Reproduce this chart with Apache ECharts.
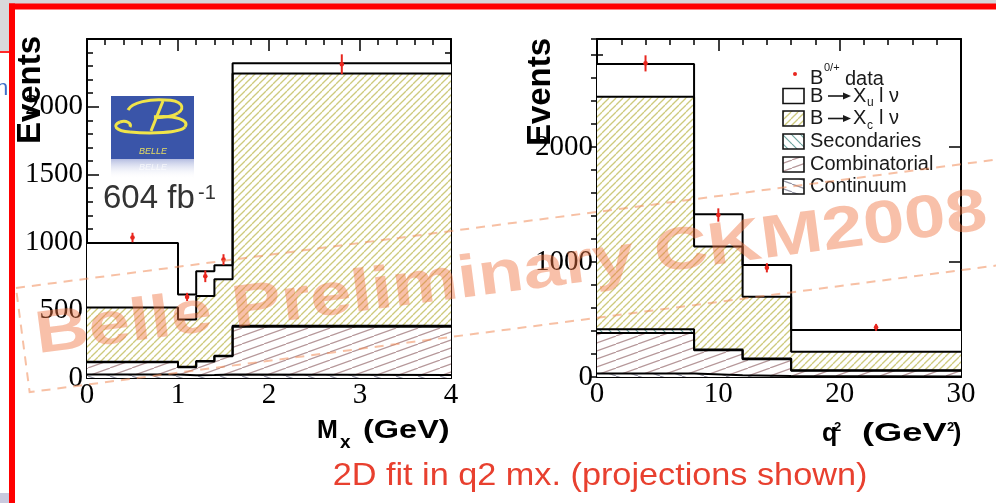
<!DOCTYPE html>
<html>
<head>
<meta charset="utf-8">
<script src="https://cdn.jsdelivr.net/npm/echarts@6/dist/echarts.min.js"></script>
<style>
html,body{margin:0;padding:0;background:#fff;}
#chart{width:996px;height:503px;}
</style>
</head>
<body>
<div id="chart"></div>
<script>
// ---- M_X projection: bin edges (GeV) and per-bin yields of each component ----
const mxEdges = [0, 1.0, 1.2, 1.4, 1.6, 4.0];
const mxContinuum = [25, 20, 22, 25, 22];
const mxCombinatorial = [92, 60, 100, 135, 356];
const mxSecondaries = [3, 3, 3, 4, 7];
const mxXc = [400, 348, 480, 564, 1860];
const mxXu = [475, 184, 182, 103, 76];
const mxDataX = [0.5, 1.1, 1.3, 1.5, 2.8];
const mxDataY = [1036, 598, 750, 873, 2314];
const mxDataErr = [35, 30, 43, 40, 73];
const mxXRange = [0, 4];
const mxYRange = [0, 2500];

// ---- q^2 projection ----
const q2Edges = [0, 8, 12, 16, 30];
const q2Continuum = [30, 15, 8, 5];
const q2Combinatorial = [353, 217, 147, 50];
const q2Secondaries = [32, 8, 5, 3];
const q2Xc = [2022, 896, 538, 162];
const q2Xu = [285, 279, 276, 189];
const q2DataX = [4, 10, 14, 23];
const q2DataY = [2728, 1409, 950, 432];
const q2DataErr = [70, 58, 40, 30];
const q2XRange = [0, 30];
const q2YRange = [0, 2940];

const legendLabels = ['Secondaries', 'Combinatorial', 'Continuum'];

// ---- hatch fills ----
function hatch(w, h, color, lw, rising) {
  const c = document.createElement('canvas');
  c.width = w; c.height = h;
  const g = c.getContext('2d');
  g.fillStyle = '#fff';
  g.fillRect(0, 0, w, h);
  g.strokeStyle = color;
  g.lineWidth = lw;
  for (const dx of [-w, 0, w]) {
    g.beginPath();
    if (rising) { g.moveTo(dx, h); g.lineTo(dx + w, 0); }
    else { g.moveTo(dx, 0); g.lineTo(dx + w, h); }
    g.stroke();
  }
  return c;
}
const pat = img => ({ image: img, repeat: 'repeat' });
const fillXu = '#ffffff';
const fillXc = pat(hatch(7, 7, 'rgb(206,202,125)', 1.3, true));
const fillSec = pat(hatch(9, 9, 'rgb(110,165,160)', 1.2, false));
const fillComb = pat(hatch(22, 8, 'rgb(182,152,154)', 1.2, true));
const fillCont = pat(hatch(22, 8, 'rgb(150,150,165)', 1.2, false));

// step points: one point per left bin edge plus the closing right edge
function stepData(edges, vals) {
  const pts = vals.map((v, i) => [edges[i], v]);
  pts.push([edges[edges.length - 1], vals[vals.length - 1]]);
  return pts;
}

// THStack-style drawing: each level is the running sum from the bottom component up,
// drawn from the top level down so lower fills cover upper ones.
function histSeries(edges, comps, fills, xi, yi) {
  const levels = [];
  let run = comps[0].map(() => 0);
  comps.forEach(vals => { run = run.map((r, i) => r + vals[i]); levels.push(run); });
  const out = [];
  for (let k = levels.length - 1; k >= 0; k--) {
    out.push({
      type: 'line', step: 'end', xAxisIndex: xi, yAxisIndex: yi,
      data: stepData(edges, levels[k]), symbol: 'none', silent: true, z: 2,
      lineStyle: { width: 0, opacity: 0 },
      areaStyle: { color: fills[k], opacity: 1, origin: 'start' }
    });
  }
  for (let k = levels.length - 1; k >= 0; k--) {
    out.push({
      type: 'line', step: 'end', xAxisIndex: xi, yAxisIndex: yi,
      data: stepData(edges, levels[k]), symbol: 'none', silent: true, z: 3,
      lineStyle: { color: '#000', width: 2 }
    });
  }
  return out;
}

function dataSeries(xs, ys, errs, xi, yi) {
  return {
    type: 'custom', xAxisIndex: xi, yAxisIndex: yi, z: 6, silent: true,
    data: xs.map((x, i) => [x, ys[i], errs[i]]),
    encode: { x: 0, y: 1 },
    renderItem: function (params, api) {
      const x = api.value(0), y = api.value(1), e = api.value(2);
      const t = api.coord([x, y + e]), b = api.coord([x, y - e]), c = api.coord([x, y]);
      return {
        type: 'group', children: [
          { type: 'line', shape: { x1: t[0], y1: t[1], x2: b[0], y2: b[1] }, style: { stroke: '#e8261e', lineWidth: 2 } },
          { type: 'circle', shape: { cx: c[0], cy: c[1], r: 2.3 }, style: { fill: '#e8261e' } }
        ]
      };
    }
  };
}

const black = '#000';
const plain = v => String(v);
const tickFont = { fontFamily: 'Liberation Serif', fontSize: 29, color: black, formatter: plain };
function axis(base, extra) { return Object.assign({
  type: 'value', splitLine: { show: false }, minorSplitLine: { show: false },
  axisLine: { show: true, onZero: false, lineStyle: { color: black, width: 2 } },
  axisTick: { show: true, inside: true, length: 12, lineStyle: { color: black, width: 1.5 } },
  minorTick: { show: true, splitNumber: 5, length: 6, lineStyle: { color: black, width: 1.5 } },
  axisLabel: { show: false }
}, base, extra); }
const minorTicks = { show: true, inside: true, length: 6, lineStyle: { color: black, width: 1.5 } };

const xAxes = [
  axis({ gridIndex: 0, min: mxXRange[0], max: mxXRange[1], interval: 1, position: 'bottom' },
       { axisLabel: Object.assign({ show: true, margin: 3 }, tickFont) }),
  axis({ gridIndex: 0, min: mxXRange[0], max: mxXRange[1], interval: 1, position: 'top' }, {}),
  axis({ gridIndex: 1, min: q2XRange[0], max: q2XRange[1], interval: 10, position: 'bottom' },
       { axisLabel: Object.assign({ show: true, margin: 3 }, tickFont) }),
  axis({ gridIndex: 1, min: q2XRange[0], max: q2XRange[1], interval: 10, position: 'top' }, {})
];
const yAxes = [
  axis({ gridIndex: 0, min: mxYRange[0], max: mxYRange[1], interval: 500, position: 'left' },
       { axisLabel: Object.assign({ show: true, margin: 4, showMaxLabel: false }, tickFont) }),
  axis({ gridIndex: 0, min: mxYRange[0], max: mxYRange[1], interval: 500, position: 'right' }, {}),
  axis({ gridIndex: 1, min: q2YRange[0], max: q2YRange[1], interval: 1000, position: 'left' },
       { minorTick: { show: false }, axisLabel: Object.assign({ show: true, margin: 4, showMaxLabel: false }, tickFont) }),
  axis({ gridIndex: 1, min: q2YRange[0], max: q2YRange[1], interval: 200, position: 'left' },
       { minorTick: { show: false }, axisLine: { show: false }, axisTick: minorTicks }),
  axis({ gridIndex: 1, min: q2YRange[0], max: q2YRange[1], interval: 1000, position: 'right' },
       { minorTick: { show: false } }),
  axis({ gridIndex: 1, min: q2YRange[0], max: q2YRange[1], interval: 200, position: 'right' },
       { minorTick: { show: false }, axisLine: { show: false }, axisTick: minorTicks })
];

const stackFills = [fillCont, fillComb, fillSec, fillXc, fillXu];
const series = [].concat(
  histSeries(mxEdges, [mxContinuum, mxCombinatorial, mxSecondaries, mxXc, mxXu], stackFills, 0, 0),
  histSeries(q2Edges, [q2Continuum, q2Combinatorial, q2Secondaries, q2Xc, q2Xu], stackFills, 2, 2),
  [dataSeries(mxDataX, mxDataY, mxDataErr, 0, 0), dataSeries(q2DataX, q2DataY, q2DataErr, 2, 2)]
);

// ---- text helpers for the annotation layer ----
function txt(x, y, text, font, fill, opts) {
  return Object.assign({
    type: 'text', x: x, y: y, silent: true, z: 20,
    style: Object.assign({ text: text, font: font, fill: fill || '#000',
      align: 'left', verticalAlign: 'middle', textAlign: 'left', textVerticalAlign: 'middle' }, (opts && opts.style) || {})
  }, (opts && opts.el) || {});
}
const bold = s => 'bold ' + s + 'px "Liberation Sans"';
const sans = s => s + 'px "Liberation Sans"';
const ink = '#1a1a1a';

// legend entry "B -> X_q l nu" with a drawn arrow
function decayLabel(cy, sub) {
  return [
    txt(810, cy, 'B', sans(20), ink),
    { type: 'line', silent: true, z: 20, shape: { x1: 828, y1: cy, x2: 845, y2: cy }, style: { stroke: ink, lineWidth: 1.6 } },
    { type: 'polygon', silent: true, z: 20, shape: { points: [[843, cy - 3.5], [851, cy], [843, cy + 3.5]] }, style: { fill: ink } },
    txt(853, cy, 'X', sans(20), ink),
    txt(867, cy + 7, sub, sans(12), ink),
    txt(879, cy, 'l', sans(20), ink),
    txt(889, cy, '\u03bd', sans(20), ink)
  ];
}

const legendRows = [96, 118.5, 141.5, 164.5, 186.5];
const legendFills = [fillXu, fillXc, fillSec, fillComb, fillCont];
let legendGraphics = [];
legendRows.forEach((cy, i) => {
  legendGraphics.push({ type: 'rect', silent: true, z: 20, shape: { x: 783, y: cy - 7.5, width: 21, height: 15 },
    style: { fill: legendFills[i], stroke: '#111', lineWidth: 1.6 } });
});
legendGraphics.push(
  { type: 'circle', silent: true, z: 20, shape: { cx: 795, cy: 74, r: 2 }, style: { fill: '#e8261e' } },
  txt(810, 78, 'B', sans(20), ink),
  txt(824, 68, '0/+', sans(11), ink),
  txt(845, 79, 'data', sans(20), ink)
);
legendGraphics = legendGraphics.concat(decayLabel(96, 'u'), decayLabel(118.5, 'c'));
legendLabels.forEach((s, i) => legendGraphics.push(txt(810, legendRows[i + 2], s, sans(20), ink)));

// script "B" of the logo, as cubic segments
const logoCurves = [
  [128, 110, 132, 102, 150, 99, 165, 100],
  [165, 100, 182, 100, 186, 108, 178, 113],
  [178, 113, 172, 117, 160, 118, 154, 117],
  [154, 117, 175, 115, 190, 120, 185, 127],
  [185, 127, 180, 133, 150, 134, 130, 132],
  [130, 132, 115, 131, 112, 125, 120, 122],
  [120, 122, 126, 120, 132, 123, 130, 127]
];
const logoGraphics = logoCurves.map(c => ({
  type: 'bezierCurve', silent: true, z: 21,
  shape: { x1: c[0], y1: c[1], cpx1: c[2], cpy1: c[3], cpx2: c[4], cpy2: c[5], x2: c[6], y2: c[7] },
  style: { fill: null, stroke: '#f0e44a', lineWidth: 3 }
}));
logoGraphics.push({ type: 'line', silent: true, z: 21, shape: { x1: 163, y1: 101, x2: 151, y2: 131 },
  style: { stroke: '#f0e44a', lineWidth: 3 } });

const wmAngle = 7.46 * Math.PI / 180;
const graphics = [
  // slide surroundings
  { type: 'rect', silent: true, z: 0, shape: { x: 0, y: 0, width: 996, height: 4 }, style: { fill: '#d6d6d8' } },
  { type: 'rect', silent: true, z: 0, shape: { x: 0, y: 0, width: 9, height: 51 }, style: { fill: '#d9d9db' } },
  { type: 'rect', silent: true, z: 0, shape: { x: 0, y: 51, width: 9, height: 2 }, style: { fill: '#ff2a2a' } },
  { type: 'rect', silent: true, z: 0, shape: { x: 0, y: 493, width: 9, height: 10 }, style: { fill: '#c9c9de' } },
  txt(-4, 89, 'n', sans(22), '#3f6fc8', { el: { z: 0 } }),
  { type: 'rect', silent: true, z: 30, shape: { x: 9, y: 3.5, width: 987, height: 6 }, style: { fill: '#ff0000' } },
  { type: 'rect', silent: true, z: 30, shape: { x: 9, y: 3.5, width: 6, height: 500 }, style: { fill: '#ff0000' } },

  // Belle logo
  { type: 'rect', silent: true, z: 20, shape: { x: 111, y: 96, width: 83, height: 63 }, style: { fill: '#3a55a9' } },
  { type: 'rect', silent: true, z: 20, shape: { x: 111, y: 159, width: 83, height: 20 },
    style: { fill: { type: 'linear', x: 0, y: 0, x2: 0, y2: 1, colorStops: [
      { offset: 0, color: 'rgba(120,135,200,0.55)' }, { offset: 1, color: 'rgba(255,255,255,0)' }] } } },
  txt(153, 151, 'BELLE', 'italic 9px "Liberation Sans"', '#e8de60', { style: { align: 'center', textAlign: 'center' } }),
  txt(153, 167, 'BELLE', 'italic 9px "Liberation Sans"', 'rgba(255,255,255,0.7)', { style: { align: 'center', textAlign: 'center' } }),
  txt(103, 199, '604 fb', sans(33), '#333'),
  txt(198, 193, '-1', sans(20), '#333'),

  // axis titles
  txt(31, 90, 'Events', bold(33), '#000', { el: { rotation: Math.PI / 2 }, style: { align: 'center', textAlign: 'center' } }),
  txt(541, 92, 'Events', bold(33), '#000', { el: { rotation: Math.PI / 2 }, style: { align: 'center', textAlign: 'center' } }),
  txt(317, 431, 'M', bold(25)),
  txt(340, 443, 'x', bold(19)),
  txt(363, 431, '(GeV)', bold(25), '#000', { el: { scaleX: 1.3 } }),
  txt(822, 434, 'q', bold(25)),
  txt(834, 427, '2', bold(13)),
  txt(862, 434, '(GeV', bold(25), '#000', { el: { scaleX: 1.45 } }),
  txt(947, 427, '2', bold(13)),
  txt(953, 434, ')', bold(25)),

  // caption
  txt(600, 476, '2D fit in q2 mx. (projections shown)', sans(32), '#e8402f',
      { el: { scaleX: 1.07 }, style: { align: 'center', textAlign: 'center' } }),

  // preliminary stamp
  { type: 'group', x: 16, y: 288, rotation: wmAngle, silent: true, z: 40, children: [
    { type: 'rect', silent: true, z: 40, shape: { x: 0, y: 0, width: 1150, height: 105 },
      style: { fill: 'none', stroke: 'rgba(240,140,90,0.55)', lineWidth: 2, lineDash: [9, 7] } },
    { type: 'text', silent: true, z: 41, x: 13, y: 81, scaleX: 1.24,
      style: { text: 'Belle Preliminary CKM2008', font: bold(60), fill: 'rgba(240,115,65,0.45)',
        align: 'left', verticalAlign: 'bottom', textAlign: 'left', textVerticalAlign: 'bottom' } }
  ] }
].concat(logoGraphics, legendGraphics);

const chart = echarts.init(document.getElementById('chart'), null, { renderer: 'canvas' });
chart.setOption({
  backgroundColor: '#ffffff',
  animation: false,
  grid: [
    { left: 87, top: 39, width: 364, height: 339 },
    { left: 597, top: 39, width: 364, height: 338 }
  ],
  xAxis: xAxes,
  yAxis: yAxes,
  series: series,
  graphic: { elements: graphics }
});
</script>
</body>
</html>
